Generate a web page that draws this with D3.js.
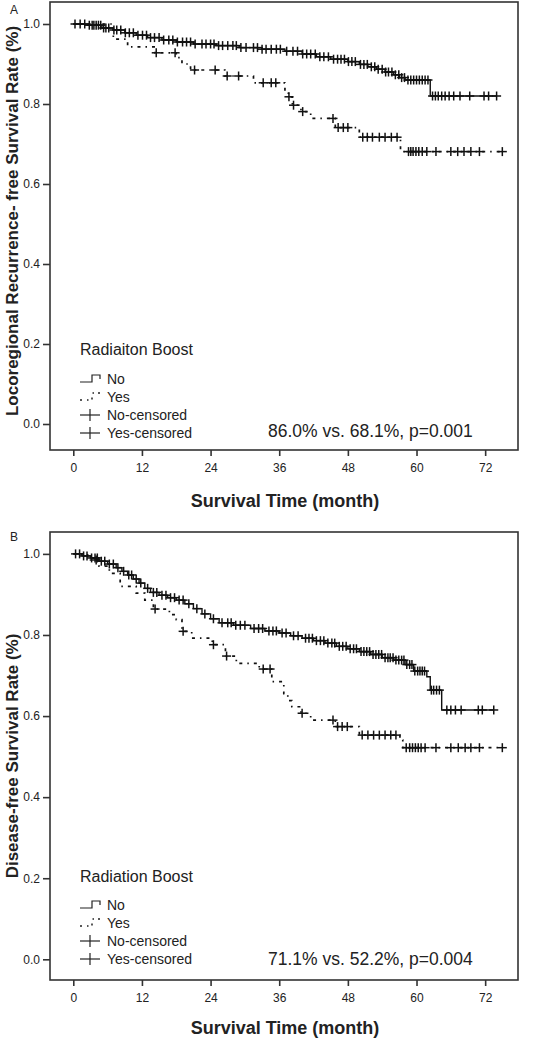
<!DOCTYPE html>
<html><head><meta charset="utf-8">
<script src="https://cdn.jsdelivr.net/npm/d3@7"></script>
<style>
html,body{margin:0;padding:0;background:#fff;}
svg text{font-family:"Liberation Sans",Arial,sans-serif;fill:#222;}
</style></head>
<body>
<svg id="chart" width="540" height="1040"></svg>
<script>
// ---------- DATA ----------
const xTicks = [0, 12, 24, 36, 48, 60, 72];
const yTicks = [0.0, 0.2, 0.4, 0.6, 0.8, 1.0];
const legendLabels = ["No", "Yes", "No-censored", "Yes-censored"];

// Panel A: Locoregional recurrence-free survival
const aNoTimes = [0, 2.5, 5, 7, 9, 11, 13, 15.5, 18, 21, 25, 29, 33, 37, 40, 42.5, 45, 48, 50, 51.5, 53, 54.5, 56, 57, 58, 62.4];
const aNoSurv  = [1.0, 0.997, 0.99, 0.985, 0.978, 0.972, 0.966, 0.960, 0.955, 0.950, 0.946, 0.941, 0.937, 0.932, 0.925, 0.918, 0.912, 0.906, 0.899, 0.893, 0.887, 0.880, 0.873, 0.866, 0.860, 0.820];
const aNoEnd = 74;
const aNoCensored = [0.3, 1.2, 2, 2.8, 3.3, 3.6, 4, 4.4, 4.8, 5.3, 5.7, 6.2, 7.1, 7.6, 8.3, 9.1, 9.8, 10.5, 11.3, 12.1, 12.8, 13.5, 14.2, 15, 15.8, 16.7, 17.4, 18.2, 19.1, 19.8, 20.5, 21.3, 22.5, 23.2, 24, 24.6, 25.4, 26.1, 27, 27.9, 28.5, 29.3, 30.2, 31.5, 32.2, 33, 33.7, 34.6, 35.5, 36.2, 37.3, 38.4, 39.2, 40.1, 40.8, 41.5, 42.3, 43.1, 43.8, 44.6, 45.5, 46.2, 46.8, 47.4, 48.1, 48.7, 49.3, 50.2, 50.8, 51.4, 52.1, 52.7, 53.3, 54, 54.6, 55.1, 55.7, 56.3, 56.9, 57.4, 57.9, 58.5, 59, 59.5, 60, 60.5, 61, 61.5, 62, 62.8, 63.3, 63.8, 64.4, 65, 65.7, 66.5, 67.6, 69.3, 71.8, 72.6, 74];
const aYesTimes = [0, 7, 9.5, 14.3, 18, 19, 20.5, 26.5, 31.5, 37, 37.6, 38.3, 39.8, 41.5, 45.8, 50, 57.2];
const aYesSurv  = [1.0, 0.962, 0.943, 0.928, 0.916, 0.900, 0.885, 0.870, 0.853, 0.835, 0.818, 0.797, 0.781, 0.764, 0.741, 0.717, 0.681];
const aYesEnd = 75;
const aYesCensored = [14.5, 17.8, 21.2, 24.8, 26.9, 28.9, 33.2, 34.6, 35.4, 37.7, 38.5, 40.1, 45.4, 46.3, 47.2, 48, 50.6, 51.4, 52.3, 53.5, 54.5, 55.6, 56.6, 58.6, 59, 59.4, 59.9, 60.4, 61, 61.8, 63.4, 66, 67.2, 68.3, 69.5, 71, 75];

// Panel B: Disease-free survival
const bNoTimes = [0, 1.5, 3, 4.5, 6, 7.5, 8.5, 9.5, 10.5, 11.5, 12.5, 13.5, 15, 16.5, 18, 19.5, 21, 22.5, 24, 25.5, 28, 31, 33.5, 36, 38, 40, 42, 44, 46, 48, 50, 52, 54, 56, 58, 59.5, 61.8, 62.4, 64.4];
const bNoSurv  = [1.0, 0.995, 0.99, 0.982, 0.975, 0.966, 0.957, 0.948, 0.938, 0.928, 0.915, 0.905, 0.898, 0.892, 0.886, 0.877, 0.865, 0.852, 0.840, 0.830, 0.824, 0.816, 0.810, 0.805, 0.798, 0.792, 0.786, 0.780, 0.772, 0.766, 0.759, 0.752, 0.744, 0.738, 0.727, 0.711, 0.697, 0.664, 0.615];
const bNoEnd = 73.5;
const bNoCensored = [0.4, 1.1, 1.8, 2.4, 3.2, 3.8, 4.2, 4.9, 5.5, 6.3, 7, 7.8, 8.8, 9.7, 10.2, 11, 11.8, 13, 14, 14.6, 15.5, 16.2, 17, 17.7, 18.5, 19.2, 20.2, 21.6, 23, 24.5, 26, 27, 27.6, 28.4, 29.2, 30, 31.6, 32.4, 33.1, 34.2, 34.9, 35.5, 36.5, 37.2, 38.5, 39.3, 40.6, 41.2, 41.8, 42.5, 43.2, 43.8, 44.5, 45.2, 45.7, 46.5, 47.1, 47.7, 48.4, 49, 49.5, 50.3, 50.8, 51.3, 51.8, 52.4, 52.9, 53.4, 53.9, 54.5, 55, 55.4, 55.9, 56.4, 56.9, 57.4, 57.8, 58.3, 58.8, 59.2, 59.7, 60.2, 60.6, 61, 61.4, 62.6, 63, 63.5, 64, 65.3, 66, 66.8, 67.8, 70.8, 71.5, 73.5];
const bYesTimes = [0, 2.5, 4.5, 6.3, 8.2, 11, 12.5, 14, 16.8, 18, 19, 20.7, 24.3, 26.6, 28.5, 32.5, 34.7, 36.8, 37.5, 38.2, 39.8, 41.5, 45.8, 50, 57.1, 57.6];
const bYesSurv  = [1.0, 0.985, 0.970, 0.952, 0.920, 0.903, 0.886, 0.864, 0.850, 0.838, 0.809, 0.792, 0.776, 0.748, 0.730, 0.716, 0.685, 0.655, 0.638, 0.623, 0.607, 0.590, 0.574, 0.553, 0.541, 0.522];
const bYesEnd = 75;
const bYesCensored = [4, 14.3, 19.2, 24.5, 26.8, 33.2, 34.4, 40, 45.4, 46.2, 47, 47.9, 50.5, 51.5, 52.5, 53.5, 54.5, 55.5, 56.4, 58.2, 58.8, 59.3, 59.8, 60.3, 60.8, 61.5, 63.4, 66, 67.3, 68.5, 69.5, 71, 75];

// ---------- DRAWING ----------
const svg = d3.select("#chart");
const FONT = '"Liberation Sans",Arial,sans-serif';

function drawPanel(p) {
  const g = svg.append("g");
  const x = d3.scaleLinear().domain([-4.07, 77.74]).range([p.left, p.right]);
  const y = d3.scaleLinear().domain(p.yDomain).range([p.bottom, p.top]);

  // frame
  g.append("rect").attr("x", p.left).attr("y", p.top)
    .attr("width", p.right - p.left).attr("height", p.bottom - p.top)
    .attr("fill", "none").attr("stroke", "#333").attr("stroke-width", 1.6);

  // axes
  const xa = g.append("g").attr("transform", `translate(0,${p.bottom})`)
    .call(d3.axisBottom(x).tickValues(xTicks).tickSize(6).tickSizeOuter(0).tickPadding(7));
  xa.select(".domain").remove();
  xa.selectAll("line").attr("stroke", "#333").attr("stroke-width", 1.6);
  xa.selectAll("text").attr("font-size", 12).attr("font-family", FONT).attr("fill", "#222");

  const ya = g.append("g").attr("transform", `translate(${p.left},0)`)
    .call(d3.axisLeft(y).tickValues(yTicks).tickFormat(d3.format(".1f")).tickSize(7).tickSizeOuter(0).tickPadding(3));
  ya.select(".domain").remove();
  ya.selectAll("line").attr("stroke", "#333").attr("stroke-width", 1.6);
  ya.selectAll("text").attr("font-size", 12).attr("font-family", FONT).attr("fill", "#222");

  // curves
  const line = d3.line().x(d => x(d[0])).y(d => y(d[1])).curve(d3.curveStepAfter);
  function curve(times, surv, end, dashed) {
    const pts = times.map((t, i) => [t, surv[i]]);
    pts.push([end, surv[surv.length - 1]]);
    g.append("path").attr("d", line(pts)).attr("fill", "none")
      .attr("stroke", "#111").attr("stroke-width", dashed ? 1.7 : 1.4)
      .attr("stroke-dasharray", dashed ? "3,5,1.5,5" : null);
  }
  function censor(times, surv, cens) {
    const sAt = t => surv[Math.max(0, d3.bisectRight(times, t) - 1)];
    const c = g.append("g").attr("stroke", "#111").attr("stroke-width", 1.5);
    cens.forEach(t => {
      const cx = x(t), cy = y(sAt(t));
      c.append("line").attr("x1", cx - 4.5).attr("x2", cx + 4.5).attr("y1", cy).attr("y2", cy);
      c.append("line").attr("x1", cx).attr("x2", cx).attr("y1", cy - 4.5).attr("y2", cy + 4.5);
    });
  }
  curve(p.yesT, p.yesS, p.yesEnd, true);
  curve(p.noT, p.noS, p.noEnd, false);
  censor(p.yesT, p.yesS, p.yesC);
  censor(p.noT, p.noS, p.noC);

  // panel letter
  g.append("text").attr("x", 10).attr("y", p.letterY).attr("font-size", 12).text(p.letter);

  // titles
  g.append("text").attr("x", 285).attr("y", p.xTitleY)
    .attr("text-anchor", "middle").attr("font-size", 18).attr("font-weight", "bold")
    .attr("fill", "#111").text("Survival Time (month)");
  g.append("text").attr("transform", `translate(18,${p.yTitleY}) rotate(-90)`)
    .attr("text-anchor", "middle").attr("font-size", 17).attr("font-weight", "bold")
    .attr("fill", "#111").text(p.yTitle);

  // legend
  const L = g.append("g");
  L.append("text").attr("x", 80).attr("y", p.legTitleY).attr("font-size", 16).text(p.legTitle);
  p.legRows.forEach((ry, i) => {
    L.append("text").attr("x", 107).attr("y", ry + 5).attr("font-size", 14).text(legendLabels[i]);
    if (i === 0) {
      L.append("path").attr("d", `M80,${ry + 3}H92V${ry - 4}H100V${ry}`)
        .attr("fill", "none").attr("stroke", "#222").attr("stroke-width", 1.2);
    } else if (i === 1) {
      L.append("path").attr("d", `M80,${ry + 3}H92V${ry - 4}H100V${ry}`)
        .attr("fill", "none").attr("stroke", "#222").attr("stroke-width", 1.5)
        .attr("stroke-dasharray", "2,5,1.5,4");
    } else {
      L.append("line").attr("x1", 80).attr("x2", 100).attr("y1", ry).attr("y2", ry)
        .attr("stroke", "#222").attr("stroke-width", 1.2);
      L.append("line").attr("x1", 90).attr("x2", 90).attr("y1", ry - 6).attr("y2", ry + 6)
        .attr("stroke", "#222").attr("stroke-width", 1.2);
    }
  });
  g.append("text").attr("x", 268).attr("y", p.statY).attr("font-size", 17.5).text(p.stat);
}

drawPanel({
  left: 50, right: 518, top: 2, bottom: 450, yDomain: [-0.065, 1.055],
  noT: aNoTimes, noS: aNoSurv, noEnd: aNoEnd, noC: aNoCensored,
  yesT: aYesTimes, yesS: aYesSurv, yesEnd: aYesEnd, yesC: aYesCensored,
  letter: "A", letterY: 14, xTitleY: 507, yTitleY: 221,
  yTitle: "Locoregional Recurrence- free Survival Rate (%)",
  legTitle: "Radiaiton Boost", legTitleY: 355, legRows: [379, 397, 415, 433],
  stat: "86.0% vs. 68.1%, p=0.001", statY: 437
});
drawPanel({
  left: 50, right: 518, top: 532, bottom: 980, yDomain: [-0.051, 1.054],
  noT: bNoTimes, noS: bNoSurv, noEnd: bNoEnd, noC: bNoCensored,
  yesT: bYesTimes, yesS: bYesSurv, yesEnd: bYesEnd, yesC: bYesCensored,
  letter: "B", letterY: 541, xTitleY: 1034, yTitleY: 756,
  yTitle: "Disease-free Survival Rate (%)",
  legTitle: "Radiation Boost", legTitleY: 882, legRows: [905, 923, 941, 959],
  stat: "71.1% vs. 52.2%, p=0.004", statY: 965
});
</script>
</body></html>
